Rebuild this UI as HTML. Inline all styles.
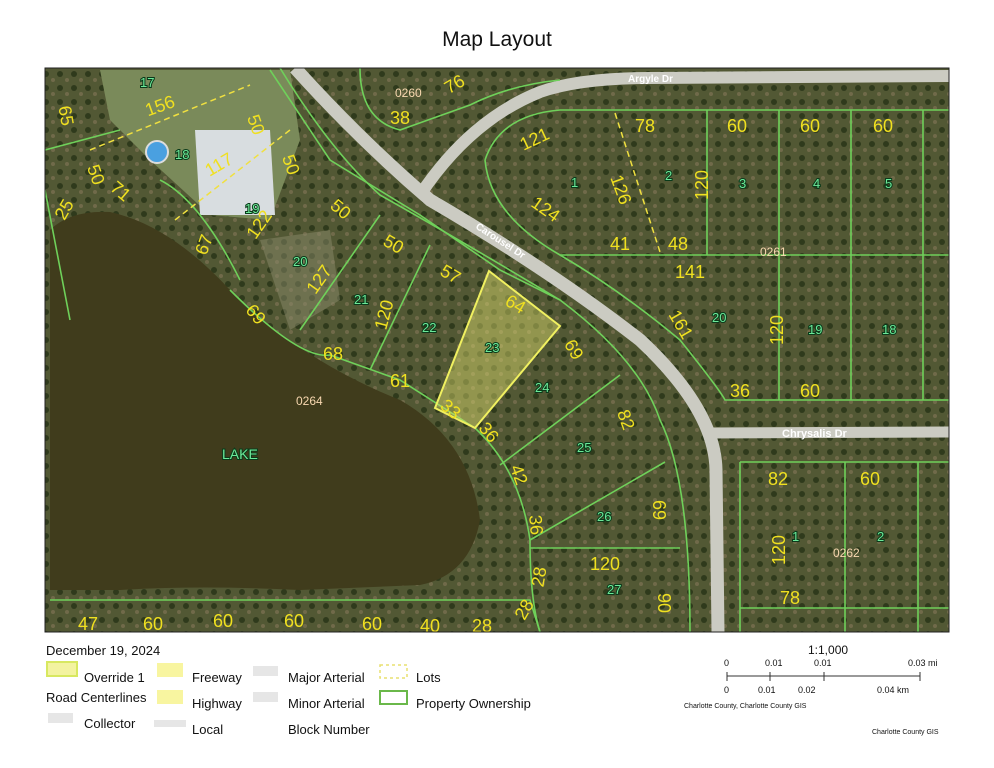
<!DOCTYPE html>
<html><head><style>
body{margin:0;background:#fff;width:994px;height:768px;overflow:hidden;font-family:"Liberation Sans",sans-serif;}
.t{position:absolute;font-size:13px;color:#111;}
</style></head><body>
<div style="position:absolute;left:0;top:28px;width:994px;text-align:center;font-size:21px;color:#111">Map Layout</div>
<svg style="position:absolute;left:0;top:0" width="994" height="768" font-family="Liberation Sans, sans-serif">
<defs><clipPath id="c"><rect x="45" y="68" width="904" height="564"/></clipPath>
<pattern id="p" width="14" height="14" patternUnits="userSpaceOnUse"><rect width="14" height="14" fill="#525834"/><circle cx="4" cy="4" r="3" fill="#2f3a1c"/><circle cx="11" cy="10" r="2" fill="#706a4a"/></pattern></defs>
<g clip-path="url(#c)">
<rect x="45" y="68" width="904" height="564" fill="url(#p)"/>
<path d="M260,240 L330,230 L340,300 L290,330 Z" fill="#8a8a6a" opacity="0.5"/>
<path d="M100,70 L290,70 L300,140 L270,220 L210,215 L150,160 L110,120 Z" fill="#7a8a5a"/>
<path d="M195,130 L270,130 L275,215 L200,215 Z" fill="#d8dde0"/>
<circle cx="157" cy="152" r="11" fill="#4aa0e0" stroke="#ddd" stroke-width="2"/>
<path d="M50,230 Q70,210 110,212 Q170,225 230,290 Q300,360 400,400 Q470,440 480,520 Q470,575 420,585 L300,590 Q200,585 120,590 L50,590 Z" fill="#403c1c"/>
<g fill="none" stroke="#cbcbc2" stroke-width="13" stroke-linecap="butt">
<path d="M295,68 Q360,140 430,200 Q550,270 640,340 Q715,410 716,470 L718,632"/>
<path d="M420,195 Q470,120 540,92 Q580,78 650,78 L949,76" stroke-width="12"/>
<path d="M710,433 L949,432" stroke-width="11"/>
</g>
<text x="628" y="82" font-size="10" font-weight="bold" fill="#fff">Argyle Dr</text>
<text x="782" y="437" font-size="11" font-weight="bold" fill="#fff">Chrysalis Dr</text>
<text x="475" y="228" font-size="10" font-weight="bold" fill="#fff" transform="rotate(33 475 228)">Carousel Dr</text>
<g fill="none" stroke="#6fd05a" stroke-width="1.6">
<path d="M280,68 Q330,150 380,195 Q460,240 560,300 Q640,360 660,420 Q690,480 690,632"/>
<path d="M270,70 L330,160 L420,215 L500,270 L560,300"/>
<path d="M360,68 Q360,120 400,130 L470,105 Q510,85 560,80"/>
<path d="M485,160 Q500,115 560,110 L949,110"/>
<path d="M485,160 Q490,215 560,255 Q620,290 680,340 Q720,390 725,400 L949,400"/>
<path d="M560,255 L949,255"/>
<path d="M707,110 L707,255 M779,110 L779,255 M851,110 L851,255 M923,110 L923,400 M779,255 L779,400 M851,255 L851,400"/>
<path d="M740,462 L949,462 M740,462 L740,632 M845,462 L845,632 M918,462 L918,632 M740,608 L949,608"/>
<path d="M230,290 Q300,360 330,355 L400,380 L475,428 Q520,470 530,540 Q530,600 540,632"/>
<path d="M50,600 L530,600 L540,632"/>
<path d="M530,548 L680,548 M530,540 L665,462 M500,465 L620,375 M380,215 L300,330 M430,245 L370,370 M45,150 L120,130 M45,190 L70,320"/>
<path d="M160,180 Q200,200 240,280"/>
</g>
<path d="M489,271 L560,326 L475,428 L435,408 Z" fill="rgba(225,225,110,0.45)" stroke="#f0f060" stroke-width="2"/>
<g stroke="#f0e040" stroke-width="1.5" stroke-dasharray="6,4" fill="none"><path d="M90,150 L250,85 M175,220 L290,130 M615,113 L660,252"/></g>
<g font-size="18" fill="#f0e020">
<text x="145" y="110" transform="rotate(-20 165 105)">156</text><text x="60" y="125" transform="rotate(80 70 115)">65</text><text x="445" y="90" transform="rotate(-30 455 85)">76</text><text x="390" y="124">38</text>
<text x="245" y="130" transform="rotate(70 255 125)">50</text><text x="85" y="180" transform="rotate(70 95 175)">50</text><text x="205" y="170" transform="rotate(-30 220 165)">117</text><text x="280" y="170" transform="rotate(70 290 165)">50</text>
<text x="110" y="197" transform="rotate(40 120 192)">71</text><text x="55" y="215" transform="rotate(-60 65 210)">25</text><text x="195" y="250" transform="rotate(-70 205 245)">67</text><text x="245" y="230" transform="rotate(-55 260 225)">122</text>
<text x="330" y="215" transform="rotate(40 340 210)">50</text><text x="383" y="250" transform="rotate(30 393 245)">50</text><text x="305" y="285" transform="rotate(-55 320 280)">127</text><text x="440" y="280" transform="rotate(30 450 275)">57</text>
<text x="370" y="320" transform="rotate(-75 385 315)">120</text><text x="505" y="310" transform="rotate(30 515 305)">64</text><text x="245" y="320" transform="rotate(50 255 315)">69</text><text x="323" y="360">68</text>
<text x="390" y="387">61</text><text x="440" y="415" transform="rotate(40 450 410)">33</text><text x="563" y="355" transform="rotate(60 573 350)">69</text><text x="478" y="438" transform="rotate(50 488 433)">36</text>
<text x="615" y="425" transform="rotate(70 625 420)">82</text><text x="508" y="480" transform="rotate(70 518 475)">42</text><text x="525" y="530" transform="rotate(85 535 525)">36</text><text x="648" y="515" transform="rotate(90 658 510)">69</text>
<text x="590" y="570">120</text><text x="530" y="582" transform="rotate(-80 540 577)">28</text><text x="653" y="608" transform="rotate(90 663 603)">90</text><text x="515" y="615" transform="rotate(-60 525 610)">28</text>
<text x="520" y="145" transform="rotate(-25 535 140)">121</text><text x="530" y="215" transform="rotate(35 545 210)">124</text><text x="605" y="195" transform="rotate(70 620 190)">126</text><text x="635" y="132">78</text>
<text x="683" y="195" transform="rotate(-90 698 185)">120</text><text x="610" y="250">41</text><text x="668" y="250">48</text><text x="727" y="132">60</text>
<text x="800" y="132">60</text><text x="873" y="132">60</text><text x="675" y="278">141</text><text x="665" y="330" transform="rotate(60 680 325)">161</text>
<text x="758" y="340" transform="rotate(-90 773 330)">120</text><text x="730" y="397">36</text><text x="800" y="397">60</text>
<text x="768" y="485">82</text><text x="860" y="485">60</text><text x="760" y="560" transform="rotate(-90 775 550)">120</text><text x="780" y="604">78</text>
<text x="78" y="630">47</text><text x="143" y="630">60</text><text x="213" y="627">60</text><text x="284" y="627">60</text>
<text x="362" y="630">60</text><text x="420" y="632">40</text><text x="472" y="632">28</text>
</g>
<g font-size="13" fill="#6ce898" stroke="#0a3a1a" stroke-width="2" paint-order="stroke" style="paint-order:stroke">
<text x="140" y="87">17</text><text x="175" y="159">18</text><text x="245" y="213">19</text><text x="293" y="266">20</text>
<text x="354" y="304">21</text><text x="422" y="332">22</text><text x="485" y="352">23</text><text x="535" y="392">24</text>
<text x="577" y="452">25</text><text x="597" y="521">26</text><text x="607" y="594">27</text><text x="571" y="187">1</text>
<text x="665" y="180">2</text><text x="739" y="188">3</text><text x="813" y="188">4</text><text x="885" y="188">5</text>
<text x="712" y="322">20</text><text x="808" y="334">19</text><text x="882" y="334">18</text><text x="792" y="541">1</text><text x="877" y="541">2</text>
<text x="222" y="459" font-size="14">LAKE</text></g>
<g font-size="12" fill="#f8d8b0"><text x="395" y="97">0260</text><text x="296" y="405">0264</text><text x="760" y="256">0261</text><text x="833" y="557">0262</text></g>
</g>
<rect x="45" y="68" width="904" height="564" fill="none" stroke="#222" stroke-width="1"/>
<rect x="47" y="662" width="30" height="14" fill="#f3f3a0" stroke="#d8e860" stroke-width="2"/>
<rect x="157" y="663" width="26" height="14" fill="#f8f5a0"/><rect x="157" y="690" width="26" height="14" fill="#f8f5a0"/>
<rect x="253" y="666" width="25" height="10" fill="#e6e6e6"/><rect x="253" y="692" width="25" height="10" fill="#e6e6e6"/>
<rect x="48" y="713" width="25" height="10" fill="#e6e6e6"/><rect x="154" y="720" width="32" height="7" fill="#e6e6e6"/>
<rect x="380" y="665" width="27" height="13" fill="none" stroke="#e8e070" stroke-dasharray="3,3" stroke-width="1.5"/>
<rect x="380" y="691" width="27" height="13" fill="none" stroke="#6ab84a" stroke-width="2"/>
<g stroke="#333" stroke-width="1" fill="none"><path d="M727,676 L920,676 M727,672 L727,681 M770,672 L770,681 M824,672 L824,681 M920,672 L920,681"/></g>
<g font-size="9" fill="#111"><text x="724" y="666">0</text><text x="765" y="666">0.01</text><text x="814" y="666">0.01</text><text x="908" y="666">0.03 mi</text>
<text x="724" y="693">0</text><text x="758" y="693">0.01</text><text x="798" y="693">0.02</text><text x="877" y="693">0.04 km</text>
<text x="684" y="708" font-size="7">Charlotte County, Charlotte County GIS</text><text x="872" y="734" font-size="7">Charlotte County GIS</text></g>
<text x="808" y="654" font-size="12" fill="#111">1:1,000</text>
</svg>
<div class="t" style="left:46px;top:643px">December 19, 2024</div>
<div class="t" style="left:84px;top:670px">Override 1</div>
<div class="t" style="left:46px;top:690px">Road Centerlines</div>
<div class="t" style="left:84px;top:716px">Collector</div>
<div class="t" style="left:192px;top:670px">Freeway</div>
<div class="t" style="left:192px;top:696px">Highway</div>
<div class="t" style="left:192px;top:722px">Local</div>
<div class="t" style="left:288px;top:670px">Major Arterial</div>
<div class="t" style="left:288px;top:696px">Minor Arterial</div>
<div class="t" style="left:288px;top:722px">Block Number</div>
<div class="t" style="left:416px;top:670px">Lots</div>
<div class="t" style="left:416px;top:696px">Property Ownership</div>
</body></html>
